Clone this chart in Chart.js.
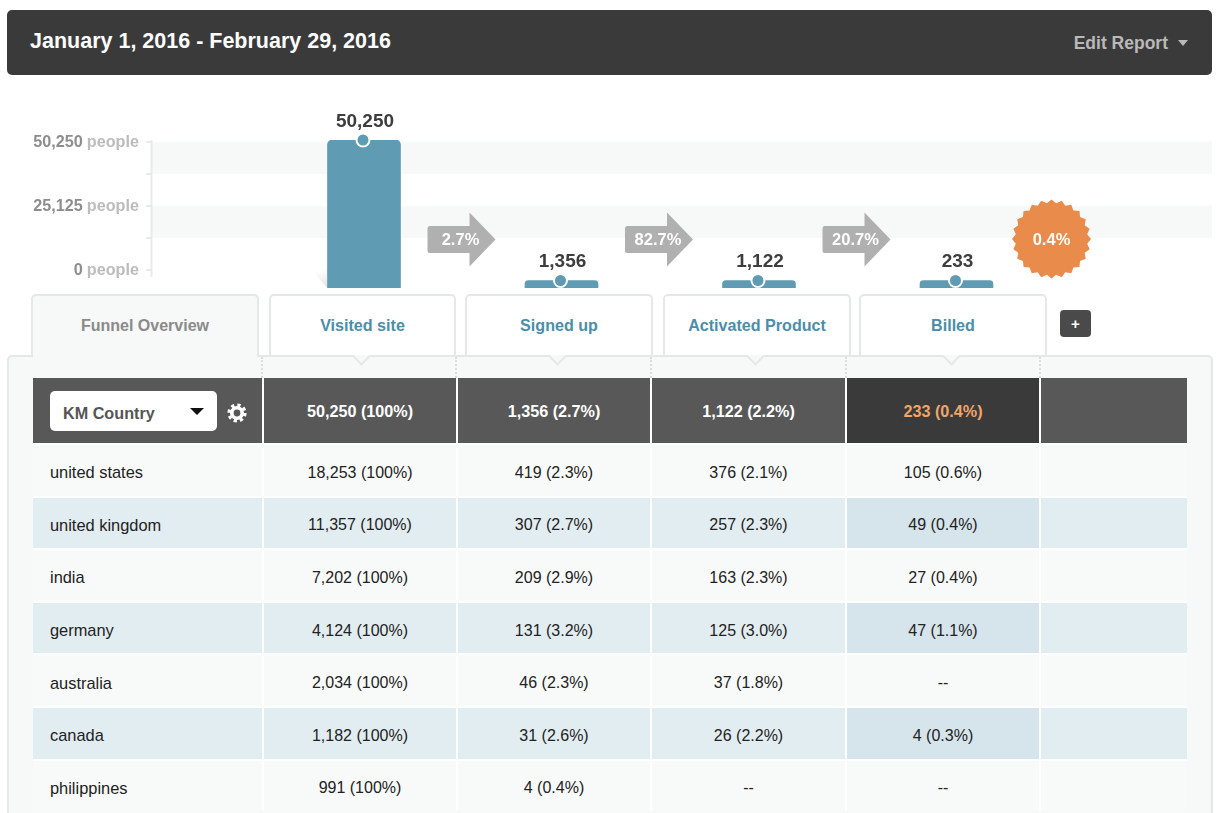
<!DOCTYPE html>
<html>
<head>
<meta charset="utf-8">
<title>Funnel report</title>
<script src="https://cdn.jsdelivr.net/npm/chart.js@4/dist/chart.umd.min.js"></script>
<style>
    html, body { margin: 0; padding: 0; width: 1220px; height: 813px; overflow: hidden; background: #fff; }
    body { position: relative; font-family: "Liberation Sans", Arial, sans-serif; color: #222; }

    #topBar { position: absolute; left: 7px; top: 10px; width: 1205px; height: 65px; background: #3a3a3a; border-radius: 5px; }
    #topBar h1 { position: absolute; left: 23px; top: 19px; margin: 0; font-size: 21.5px; line-height: 25px; color: #fff; font-weight: bold; }
    #editReport { position: absolute; right: 44px; top: 23px; font-size: 17.5px; line-height: 21px; font-weight: bold; color: #b9b9b9; }
    #editCaret { position: absolute; left: 1171px; top: 30px; border: 5px solid transparent; border-top: 6px solid #b9b9b9; border-bottom: 0; }

    #graficoFunnel { position: absolute; left: 0; top: 100px; }

    .tab { position: absolute; top: 294px; height: 61px; box-sizing: border-box; background: #fff; border: 2px solid #e6e8e8; border-bottom: 0; border-radius: 5px 5px 0 0; text-align: center; font-size: 16.1px; line-height: 59px; font-weight: bold; color: #4b8ea9; z-index: 2; }
    .tab.overview { background: #f7f8f8; color: #8a8a8a; height: 63px; font-size: 16px; }
    #btnAdd { position: absolute; left: 1060px; top: 310px; width: 31px; height: 27px; background: #4a4a4a; border-radius: 4px; color: #fff; font-weight: bold; font-size: 15px; line-height: 27px; text-align: center; }

    #panel { position: absolute; left: 7px; top: 355px; width: 1206px; height: 480px; box-sizing: border-box; background: #f7f9f9; border: 2px solid #e6e8e8; border-radius: 5px 5px 0 0; }
    .notch { position: absolute; top: 350px; width: 11px; height: 11px; background: #f7f9f9; border-right: 2px solid #e6e8e8; border-bottom: 2px solid #e6e8e8; transform: rotate(45deg); z-index: 1; }
    .dots { position: absolute; top: 357px; height: 21px; width: 0; border-left: 2px dotted #dcdede; }

    #tabla { position: absolute; left: 33px; top: 378px; width: 1154px; display: grid; grid-template-columns: 229px 192px 192px 193px 192px 146px; grid-template-rows: 65px; grid-auto-rows: 50.6px; gap: 2px; background: #fff; }
    .cell { display: flex; align-items: center; justify-content: center; box-sizing: border-box; padding-top: 5px; font-size: 16px; background: #f8faf9; color: #222; }
    .cell.name { justify-content: flex-start; padding-left: 17px; font-size: 16.4px; }
    .cell.alt { background: #e2edf1; }
    .cell.alt.billed { background: #d6e4eb; }
    .cell.head { background: #585858; color: #fff; font-weight: bold; font-size: 16.2px; padding-top: 2px; }
    .cell.head.billed { background: #3a3a3a; color: #f0a56a; }

    #selectKm { position: absolute; left: 50px; top: 391px; width: 167px; height: 40px; background: #fff; border-radius: 5px; font-size: 16.2px; font-weight: bold; color: #555; line-height: 44px; text-indent: 13px; }
    #selectKm i { position: absolute; left: 140px; top: 17px; border: 7px solid transparent; border-top: 7px solid #111; border-bottom: 0; }
    #gear { position: absolute; left: 227px; top: 403px; }
</style>
</head>
<body>

<div id="topBar">
    <h1>January 1, 2016 - February 29, 2016</h1>
    <div id="editReport">Edit Report</div>
    <div id="editCaret"></div>
</div>

<canvas id="graficoFunnel" width="1220" height="188"></canvas>

<div id="panel"></div>
<div class="tab overview" style="left:31px;width:228px">Funnel Overview</div>
<div id="tabs"></div>
<div id="btnAdd">+</div>
<div id="tabla"></div>
<div id="selectKm">KM Country<i></i></div>
<svg id="gear" width="20" height="20" viewBox="0 0 20 20">
    <circle cx="10" cy="10" r="5.2" fill="none" stroke="#fff" stroke-width="3.6"/>
    <circle cx="10" cy="10" r="8" fill="none" stroke="#fff" stroke-width="3.2" stroke-dasharray="3.2 3.1"/>
</svg>

<script>
const stages = ['Visited site', 'Signed up', 'Activated Product', 'Billed'];
const stageTotals = [50250, 1356, 1122, 233];
const stepRates = ['2.7%', '82.7%', '20.7%'];
const overallRate = '0.4%';
const tickValues = [0, 12562.5, 25125, 37687.5, 50250];
const labeledTicks = [0, 25125, 50250];

const headerCells = ['50,250 (100%)', '1,356 (2.7%)', '1,122 (2.2%)', '233 (0.4%)'];
const countries = ['united states', 'united kingdom', 'india', 'germany', 'australia', 'canada', 'philippines'];
const visitedCells = ['18,253 (100%)', '11,357 (100%)', '7,202 (100%)', '4,124 (100%)', '2,034 (100%)', '1,182 (100%)', '991 (100%)'];
const signedUpCells = ['419 (2.3%)', '307 (2.7%)', '209 (2.9%)', '131 (3.2%)', '46 (2.3%)', '31 (2.6%)', '4 (0.4%)'];
const activatedCells = ['376 (2.1%)', '257 (2.3%)', '163 (2.3%)', '125 (3.0%)', '37 (1.8%)', '26 (2.2%)', '--'];
const billedCells = ['105 (0.6%)', '49 (0.4%)', '27 (0.4%)', '47 (1.1%)', '--', '4 (0.3%)', '--'];

// Tabs
const tabLefts = [269, 465, 663, 859];
const tabWidths = [187, 188, 188, 188];
const tabs = document.querySelector('#tabs');
stages.forEach((stage, i) => {
    tabs.insertAdjacentHTML('beforeend',
        `<div class="tab" style="left:${tabLefts[i]}px;width:${tabWidths[i]}px">${stage}</div>` +
        `<div class="notch" style="left:${tabLefts[i] + tabWidths[i] / 2 - 8}px"></div>`);
});
[262, 456, 651, 846, 1040].forEach(x => {
    tabs.insertAdjacentHTML('beforeend', `<div class="dots" style="left:${x - 1}px"></div>`);
});

// Tabla
const tabla = document.querySelector('#tabla');
const addCell = (text, classes) => {
    const cell = document.createElement('div');
    cell.className = 'cell ' + classes;
    cell.textContent = text;
    tabla.appendChild(cell);
};
addCell('', 'head');
headerCells.forEach((text, i) => addCell(text, i === 3 ? 'head billed' : 'head'));
addCell('', 'head');
countries.forEach((country, i) => {
    const alt = i % 2 === 1 ? 'alt' : '';
    addCell(country, 'name ' + alt);
    addCell(visitedCells[i], alt);
    addCell(signedUpCells[i], alt);
    addCell(activatedCells[i], alt);
    addCell(billedCells[i], 'billed ' + alt);
    addCell('', alt);
});

const formatNumber = v => v.toLocaleString('en-US');

// Bandas, eje y etiquetas del eje
const axisPlugin = {
    id: 'axisPlugin',
    beforeDatasetsDraw(chart) {
        const { ctx, chartArea, scales } = chart;
        const y = scales.y;
        ctx.save();
        ctx.fillStyle = '#f7f9f9';
        [[50250, 37687.5], [25125, 12562.5]].forEach(([top, bottom]) => {
            ctx.fillRect(chartArea.left, y.getPixelForValue(top), chartArea.right - chartArea.left, y.getPixelForValue(bottom) - y.getPixelForValue(top));
        });
        ctx.strokeStyle = '#e8eaea';
        ctx.lineWidth = 2;
        ctx.beginPath();
        ctx.moveTo(chartArea.left - 0.5, y.getPixelForValue(50250) - 2);
        ctx.lineTo(chartArea.left - 0.5, y.getPixelForValue(0) + 7);
        ctx.stroke();

        ctx.textBaseline = 'middle';
        labeledTicks.forEach(v => {
            const py = y.getPixelForValue(v) + 1;
            ctx.font = 'bold 16.2px "Liberation Sans"';
            ctx.textAlign = 'right';
            ctx.fillStyle = '#bcbcbc';
            ctx.fillText('people', 139, py);
            const peopleWidth = ctx.measureText('people').width;
            ctx.fillStyle = '#8d8d8d';
            ctx.fillText(formatNumber(v), 139 - peopleWidth - 4, py);
        });

        // sombra de la primera barra
        const first = chart.getDatasetMeta(0).data[0];
        const left = first.x - first.width / 2;
        const grad = ctx.createLinearGradient(left, chartArea.bottom, left - 9, chartArea.bottom - 17);
        grad.addColorStop(0, '#e2e2e2');
        grad.addColorStop(1, '#ffffff');
        ctx.fillStyle = grad;
        ctx.beginPath();
        ctx.moveTo(left, chartArea.bottom - 33);
        ctx.lineTo(left - 18, chartArea.bottom - 20);
        ctx.lineTo(left, chartArea.bottom);
        ctx.fill();
        ctx.restore();
    }
};

// Valores, puntos, flechas y sello
const marksPlugin = {
    id: 'marksPlugin',
    afterDatasetsDraw(chart) {
        const { ctx } = chart;
        const bars = chart.getDatasetMeta(0).data;
        ctx.save();
        ctx.textAlign = 'center';
        ctx.textBaseline = 'middle';

        bars.forEach((bar, i) => {
            ctx.beginPath();
            ctx.arc(bar.x - 1, bar.y, 7.5, 0, Math.PI * 2);
            ctx.fillStyle = '#fff';
            ctx.fill();
            ctx.beginPath();
            ctx.arc(bar.x - 1, bar.y, 5.5, 0, Math.PI * 2);
            ctx.fillStyle = '#5f9bb3';
            ctx.fill();

            ctx.font = 'bold 19px "Liberation Sans"';
            ctx.fillStyle = '#3d3d3d';
            ctx.fillText(formatNumber(stageTotals[i]), bar.x + 1, bar.y - 18.5);
        });

        stepRates.forEach((rate, i) => {
            const x = bars[i].x + 63.5;
            const cy = 139.5;
            ctx.beginPath();
            ctx.moveTo(x + 2, cy - 13.5);
            ctx.lineTo(x + 42, cy - 13.5);
            ctx.lineTo(x + 42, cy - 27);
            ctx.lineTo(x + 68, cy);
            ctx.lineTo(x + 42, cy + 27);
            ctx.lineTo(x + 42, cy + 13.5);
            ctx.lineTo(x + 2, cy + 13.5);
            ctx.quadraticCurveTo(x, cy + 13.5, x, cy + 11);
            ctx.lineTo(x, cy - 11);
            ctx.quadraticCurveTo(x, cy - 13.5, x + 2, cy - 13.5);
            ctx.fillStyle = '#b0b0b0';
            ctx.fill();
            ctx.font = 'bold 16.5px "Liberation Sans"';
            ctx.fillStyle = '#fff';
            ctx.fillText(rate, x + 33, cy + 1);
        });

        // sello naranja
        const bx = bars[3].x + 95;
        const by = 139;
        const teeth = 24;
        ctx.beginPath();
        for (let k = 0; k < teeth * 2; k++) {
            const r = k % 2 === 0 ? 39.5 : 36;
            const a = (k / (teeth * 2)) * Math.PI * 2;
            ctx.lineTo(bx + r * Math.cos(a), by + r * Math.sin(a));
        }
        ctx.closePath();
        ctx.fillStyle = '#e98b4a';
        ctx.fill();
        ctx.font = 'bold 16.5px "Liberation Sans"';
        ctx.fillStyle = '#fff';
        ctx.fillText(overallRate, bx, by + 1);
        ctx.restore();
    }
};

document.addEventListener('DOMContentLoaded', () => {
    new Chart(document.getElementById('graficoFunnel'), {
        type: 'bar',
        data: {
            datasets: [{
                data: stageTotals.map((v, i) => ({ x: i, y: v })),
                yAxisID: 'yBars',
                backgroundColor: '#5f9bb3',
                borderRadius: { topLeft: 5, topRight: 5 },
                barThickness: 73,
                minBarLength: 7.5
            }]
        },
        options: {
            responsive: false,
            animation: false,
            layout: { padding: { top: 40, right: 8, bottom: 0, left: 0 } },
            plugins: { legend: { display: false }, tooltip: { enabled: false } },
            scales: {
                x: { type: 'linear', display: false, offset: false, min: -1.0734, max: 4.2937 },
                y: {
                    position: 'left',
                    min: -7066,
                    max: 51035,
                    afterBuildTicks: scale => { scale.ticks = tickValues.map(value => ({ value })); },
                    afterFit: scale => { scale.width = 152; },
                    ticks: { display: false },
                    border: { display: false },
                    grid: { drawOnChartArea: false, drawTicks: true, tickLength: 6, color: '#e8eaea', lineWidth: 2 }
                },
                yBars: { display: false, min: 0, max: 50250 }
            }
        },
        plugins: [axisPlugin, marksPlugin]
    });
});
</script>
</body>
</html>
